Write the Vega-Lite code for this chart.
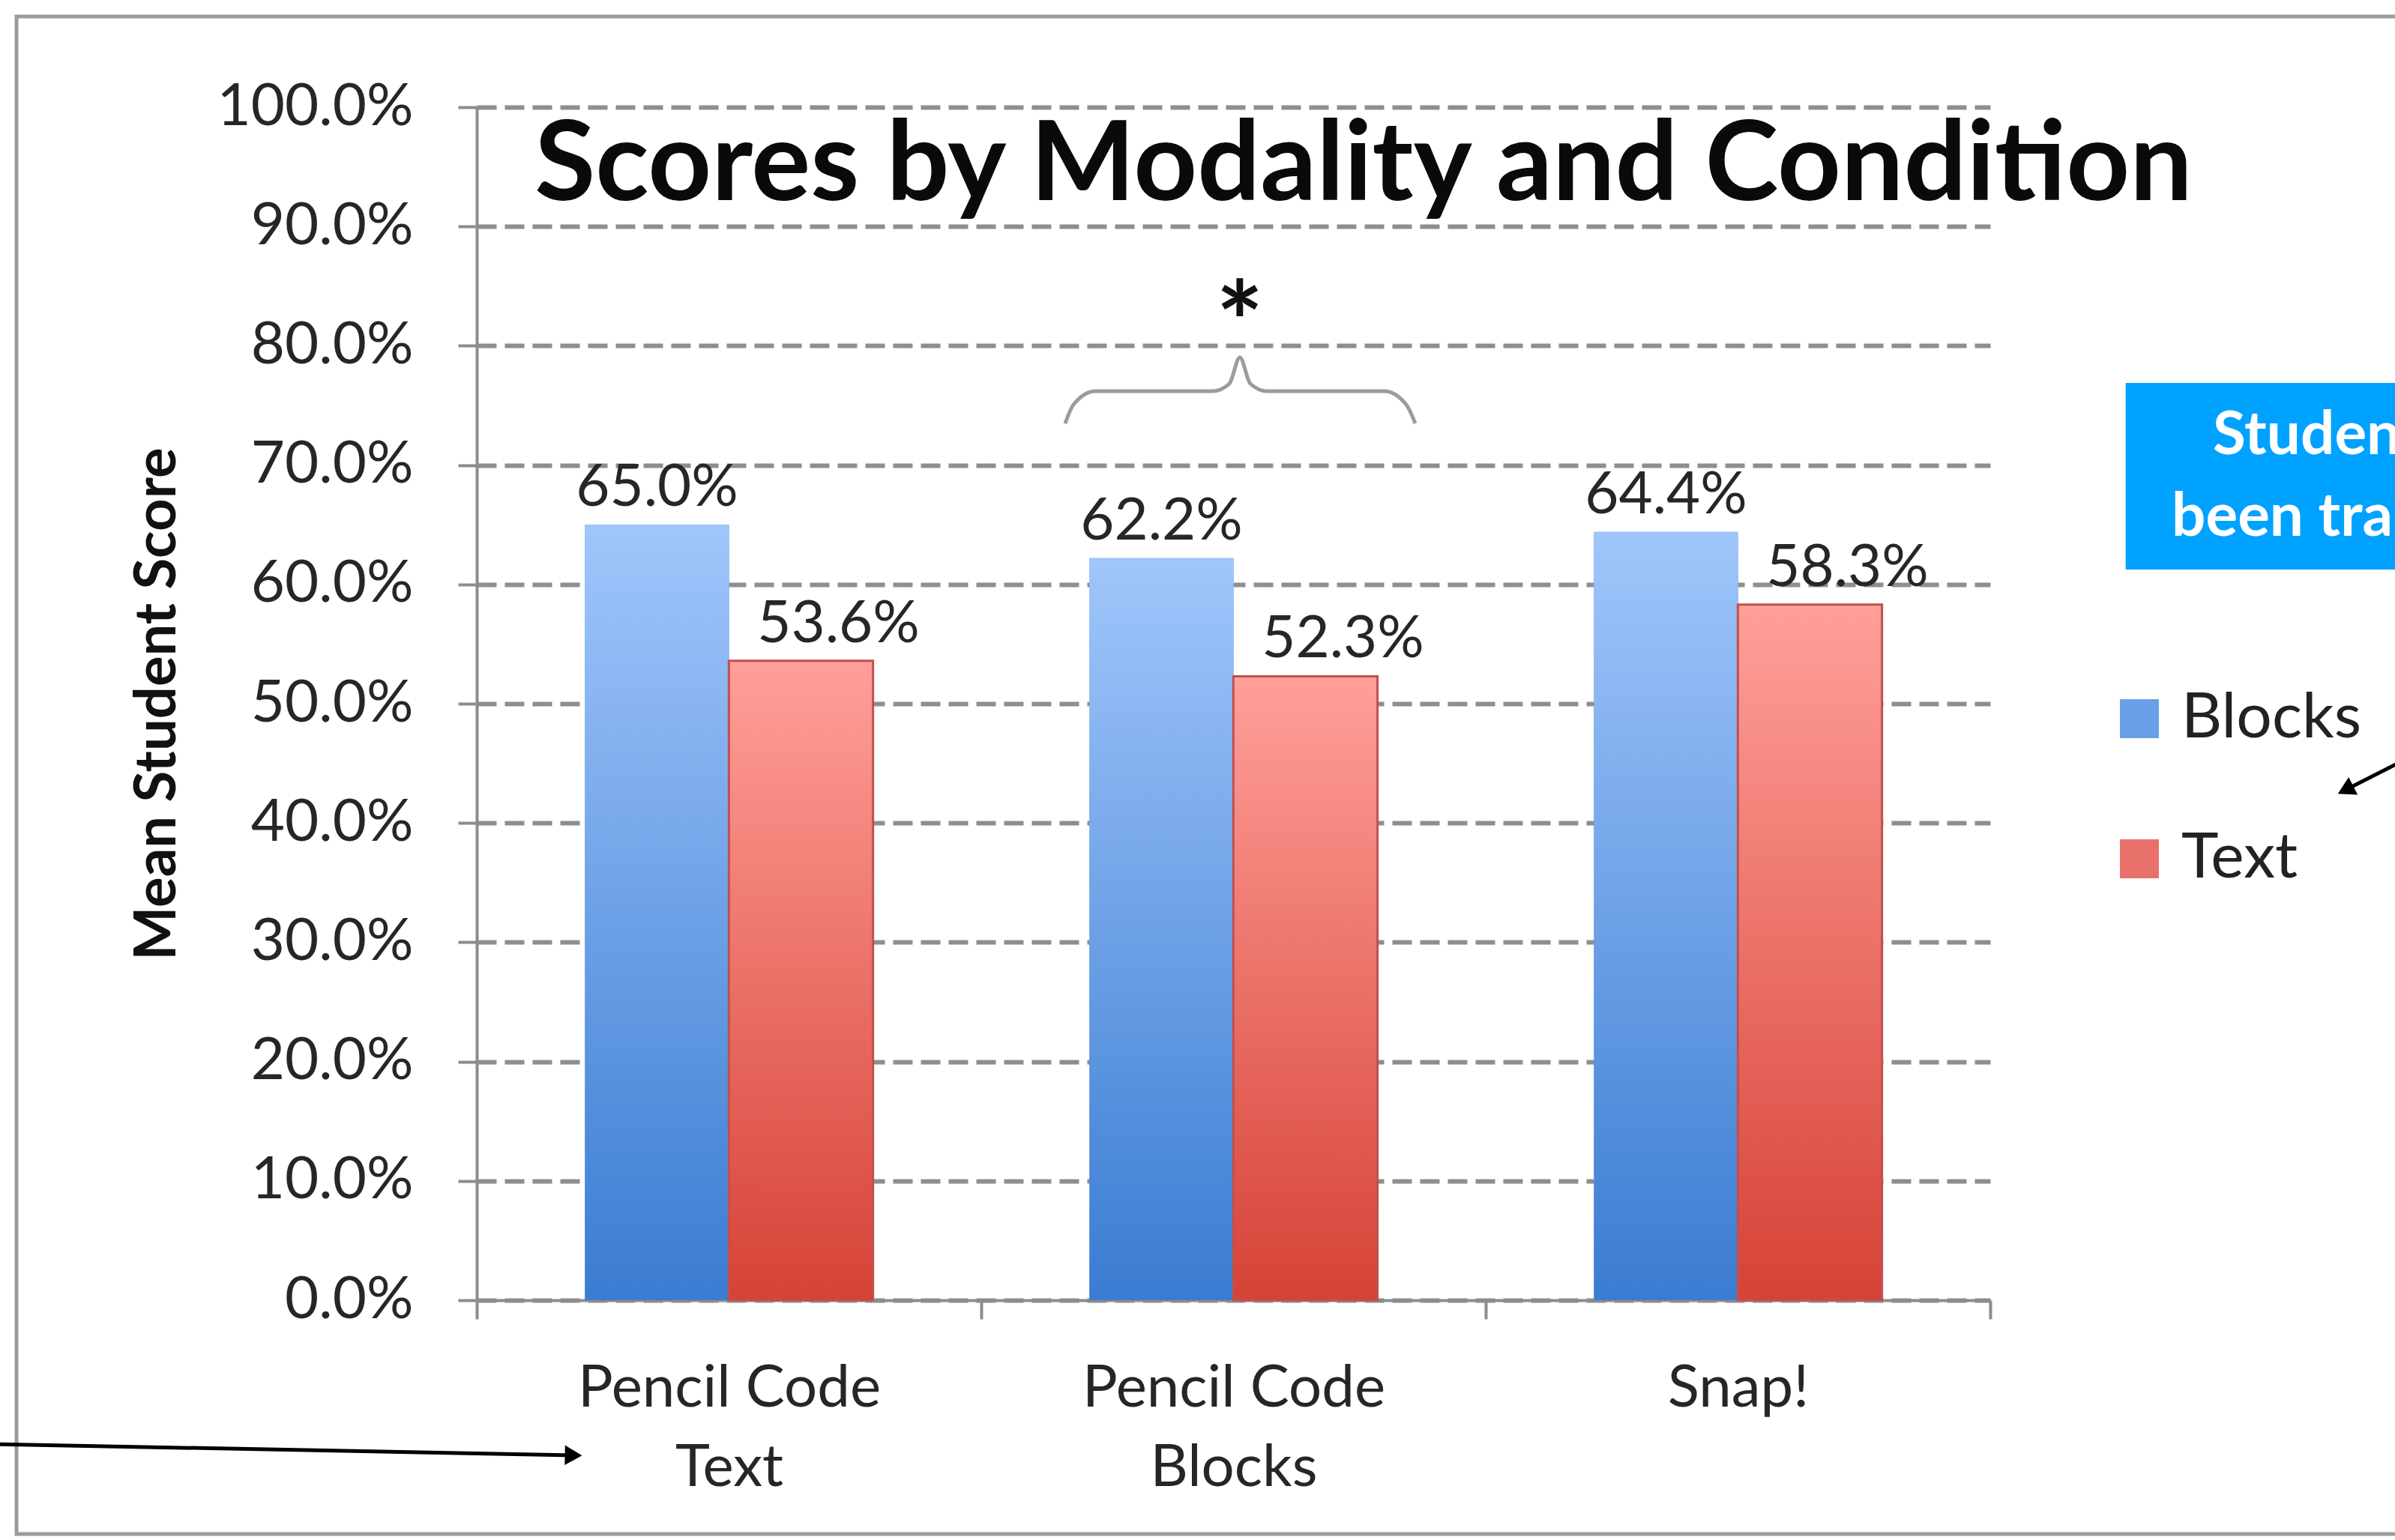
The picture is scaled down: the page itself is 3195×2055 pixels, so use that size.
{
  "$schema": "https://vega.github.io/schema/vega-lite/v6.json",
  "width": 2019,
  "height": 1592,
  "autosize": {"type": "none"},
  "padding": {"left": 636, "top": 143, "right": 540, "bottom": 320},
  "background": "#ffffff",
  "config": {"view": {"stroke": null}, "font": "Lato"},
  "datasets": {
    "scores": [
      {"condition": "Pencil Code Text", "modality": "Blocks", "score": 0.650},
      {"condition": "Pencil Code Text", "modality": "Text", "score": 0.536},
      {"condition": "Pencil Code Blocks", "modality": "Blocks", "score": 0.622},
      {"condition": "Pencil Code Blocks", "modality": "Text", "score": 0.523},
      {"condition": "Snap!", "modality": "Blocks", "score": 0.644},
      {"condition": "Snap!", "modality": "Text", "score": 0.583}
    ],
    "frame": [{"u": -0.9123, "u2": 4.3, "f": 1.076, "f2": -0.196}],
    "box": [{"u": 3.2685, "u2": 4.3, "f": 0.7688, "f2": 0.6124}],
    "boxtext": [
      {"label": "Students who had", "u": 3.4413, "f": 0.7092},
      {"label": "been trained in", "u": 3.3596, "f": 0.6407}
    ],
    "arrows": [
      {"u": -0.96, "f": -0.1206, "u2": 0.1917, "f2": -0.1300},
      {"u": 3.8098, "f": 0.4504, "u2": 3.7043, "f2": 0.4278}
    ],
    "heads": [
      {"u": 0.1917, "f": -0.1300, "angle": 1},
      {"u": 3.7043, "f": 0.4278, "angle": 153}
    ],
    "brace": [
      {"u": 1.1664, "f": 0.7349},
      {"u": 1.1828, "f": 0.7506},
      {"u": 1.2259, "f": 0.7619},
      {"u": 1.4591, "f": 0.7619},
      {"u": 1.4918, "f": 0.7682},
      {"u": 1.5126, "f": 0.7902},
      {"u": 1.5334, "f": 0.7682},
      {"u": 1.5661, "f": 0.7619},
      {"u": 1.7994, "f": 0.7619},
      {"u": 1.8425, "f": 0.7506},
      {"u": 1.8603, "f": 0.7349}
    ],
    "star": [{"label": "*", "u": 1.5126, "f": 0.7852}],
    "title": [{"label": "Scores by Modality and Condition", "u": 1.7578, "f": 0.9221}]
  },
  "resolve": {"scale": {"x": "independent"}, "axis": {"x": "independent"}},
  "layer": [
    {
      "data": {"name": "scores"},
      "encoding": {
        "x": {
          "field": "condition", "type": "nominal", "sort": null,
          "scale": {"paddingInner": 0, "paddingOuter": 0},
          "axis": {
            "orient": "bottom", "title": null, "tickBand": "extent", "labelAngle": 0, "labelLimit": 0,
            "labelExpr": "isString(datum.value) && datum.value != 'Snap!' ? [slice(datum.value, 0, 11), slice(datum.value, 12)] : datum.label",
            "domainColor": "#8c8c8c", "domainWidth": 4, "tickColor": "#8c8c8c", "tickWidth": 4, "tickSize": 25,
            "labelFont": "Lato", "labelFontSize": 78, "labelColor": "#262626", "labelPadding": 54, "labelLineHeight": 106, "grid": false
          }
        },
        "y": {
          "field": "score", "type": "quantitative", "title": "Mean Student  Score", "stack": null,
          "scale": {"domain": [0, 1], "nice": false},
          "axis": {"orient": "left", "format": ".1%", "labelLimit": 0, "values": [0, 0.1, 0.2, 0.3, 0.4, 0.5, 0.6, 0.7, 0.8, 0.9, 1.0], "grid": true, "gridDash": [26, 11], "gridColor": "#8e8e8e", "gridWidth": 6, "domainColor": "#8c8c8c", "domainWidth": 4, "tickColor": "#8c8c8c", "tickWidth": 4, "tickSize": 25, "labelFont": "Lato", "labelFontSize": 78, "labelColor": "#262626", "labelPadding": 60, "titleFont": "Lato", "titleFontWeight": "bold", "titleFontSize": 76, "titleColor": "#111111", "titleX": -426, "titleY": 796, "titleAngle": -90, "titleBaseline": "middle", "titleAlign": "center"}
        }
      },
      "layer": [
        {
          "mark": {"type": "bar", "width": {"band": 0.2857}, "xOffset": {"expr": "datum.modality === 'Blocks' ? -96 : 96"}},
          "encoding": {
            "color": {
              "field": "modality", "type": "nominal",
              "scale": {"domain": ["Blocks", "Text"], "range": ["#6A9FE8", "#E8726B"]},
              "legend": {
                "orient": "none", "legendX": 2176, "legendY": 774, "title": null,
                "symbolType": "square", "symbolSize": 2704, "symbolStrokeWidth": 0,
                "labelFont": "Lato", "labelFontSize": 84, "labelColor": "#222222", "labelLimit": 0,
                "rowPadding": 103, "labelOffset": 14
              }
            }
          }
        },
        {
          "transform": [{"filter": "datum.modality === 'Blocks'"}],
          "mark": {"type": "bar", "width": {"band": 0.2857}, "xOffset": -96, "color": {"gradient": "linear", "x1": 0, "y1": 0, "x2": 0, "y2": 1, "stops": [{"offset": 0, "color": "#A0C6FB"}, {"offset": 1, "color": "#3A7CD2"}]}}
        },
        {
          "transform": [{"filter": "datum.modality === 'Text'"}],
          "mark": {"type": "bar", "width": {"band": 0.2857}, "xOffset": 96, "stroke": "#C0504D", "strokeWidth": 3, "color": {"gradient": "linear", "x1": 0, "y1": 0, "x2": 0, "y2": 1, "stops": [{"offset": 0, "color": "#FF9F99"}, {"offset": 1, "color": "#D64236"}]}}
        },
        {
          "transform": [{"filter": "datum.modality === 'Blocks'"}],
          "mark": {"type": "text", "font": "Lato", "fontSize": 78, "color": "#262626", "baseline": "alphabetic", "dy": -25, "dx": -96},
          "encoding": {"text": {"field": "score", "type": "quantitative", "format": ".1%"}}
        },
        {
          "transform": [{"filter": "datum.modality === 'Text'"}],
          "mark": {"type": "text", "font": "Lato", "fontSize": 78, "color": "#262626", "baseline": "alphabetic", "dy": -25, "dx": 146},
          "encoding": {"text": {"field": "score", "type": "quantitative", "format": ".1%"}}
        }
      ]
    },
    {
      "layer": [
        {
          "data": {"name": "frame"},
          "mark": {"type": "rect", "fillOpacity": 0, "stroke": "#9b9b9b", "strokeWidth": 5, "clip": false},
          "encoding": {
            "x": {"field": "u", "type": "quantitative", "scale": {"domain": [0, 3], "nice": false, "zero": false}, "axis": null},
            "x2": {"field": "u2"},
            "y": {"field": "f", "type": "quantitative", "title": "Mean Student  Score", "scale": {"domain": [0, 1], "nice": false}, "axis": {"orient": "left", "format": ".1%", "labelLimit": 0, "values": [0, 0.1, 0.2, 0.3, 0.4, 0.5, 0.6, 0.7, 0.8, 0.9, 1.0], "grid": true, "gridDash": [26, 11], "gridColor": "#8e8e8e", "gridWidth": 6, "domainColor": "#8c8c8c", "domainWidth": 4, "tickColor": "#8c8c8c", "tickWidth": 4, "tickSize": 25, "labelFont": "Lato", "labelFontSize": 78, "labelColor": "#262626", "labelPadding": 60, "titleFont": "Lato", "titleFontWeight": "bold", "titleFontSize": 76, "titleColor": "#111111", "titleX": -426, "titleY": 796, "titleAngle": -90, "titleBaseline": "middle", "titleAlign": "center"}},
            "y2": {"field": "f2"}
          }
        },
        {
          "data": {"name": "box"},
          "mark": {"type": "rect", "fill": "#00A2FF", "clip": false},
          "encoding": {
            "x": {"field": "u", "type": "quantitative", "scale": {"domain": [0, 3], "nice": false, "zero": false}, "axis": null},
            "x2": {"field": "u2"},
            "y": {"field": "f", "type": "quantitative", "title": "Mean Student  Score", "scale": {"domain": [0, 1], "nice": false}, "axis": {"orient": "left", "format": ".1%", "labelLimit": 0, "values": [0, 0.1, 0.2, 0.3, 0.4, 0.5, 0.6, 0.7, 0.8, 0.9, 1.0], "grid": true, "gridDash": [26, 11], "gridColor": "#8e8e8e", "gridWidth": 6, "domainColor": "#8c8c8c", "domainWidth": 4, "tickColor": "#8c8c8c", "tickWidth": 4, "tickSize": 25, "labelFont": "Lato", "labelFontSize": 78, "labelColor": "#262626", "labelPadding": 60, "titleFont": "Lato", "titleFontWeight": "bold", "titleFontSize": 76, "titleColor": "#111111", "titleX": -426, "titleY": 796, "titleAngle": -90, "titleBaseline": "middle", "titleAlign": "center"}},
            "y2": {"field": "f2"}
          }
        },
        {
          "data": {"name": "boxtext"},
          "mark": {"type": "text", "font": "Lato", "fontWeight": "bold", "fontSize": 80, "color": "#ffffff", "align": "left", "baseline": "alphabetic", "letterSpacing": 3, "clip": false},
          "encoding": {
            "x": {"field": "u", "type": "quantitative", "scale": {"domain": [0, 3], "nice": false, "zero": false}, "axis": null},
            "y": {"field": "f", "type": "quantitative", "title": "Mean Student  Score", "scale": {"domain": [0, 1], "nice": false}, "axis": {"orient": "left", "format": ".1%", "labelLimit": 0, "values": [0, 0.1, 0.2, 0.3, 0.4, 0.5, 0.6, 0.7, 0.8, 0.9, 1.0], "grid": true, "gridDash": [26, 11], "gridColor": "#8e8e8e", "gridWidth": 6, "domainColor": "#8c8c8c", "domainWidth": 4, "tickColor": "#8c8c8c", "tickWidth": 4, "tickSize": 25, "labelFont": "Lato", "labelFontSize": 78, "labelColor": "#262626", "labelPadding": 60, "titleFont": "Lato", "titleFontWeight": "bold", "titleFontSize": 76, "titleColor": "#111111", "titleX": -426, "titleY": 796, "titleAngle": -90, "titleBaseline": "middle", "titleAlign": "center"}},
            "text": {"field": "label"}
          }
        },
        {
          "data": {"name": "arrows"},
          "mark": {"type": "rule", "color": "#000000", "strokeWidth": 5, "clip": false},
          "encoding": {
            "x": {"field": "u", "type": "quantitative", "scale": {"domain": [0, 3], "nice": false, "zero": false}, "axis": null},
            "x2": {"field": "u2"},
            "y": {"field": "f", "type": "quantitative", "title": "Mean Student  Score", "scale": {"domain": [0, 1], "nice": false}, "axis": {"orient": "left", "format": ".1%", "labelLimit": 0, "values": [0, 0.1, 0.2, 0.3, 0.4, 0.5, 0.6, 0.7, 0.8, 0.9, 1.0], "grid": true, "gridDash": [26, 11], "gridColor": "#8e8e8e", "gridWidth": 6, "domainColor": "#8c8c8c", "domainWidth": 4, "tickColor": "#8c8c8c", "tickWidth": 4, "tickSize": 25, "labelFont": "Lato", "labelFontSize": 78, "labelColor": "#262626", "labelPadding": 60, "titleFont": "Lato", "titleFontWeight": "bold", "titleFontSize": 76, "titleColor": "#111111", "titleX": -426, "titleY": 796, "titleAngle": -90, "titleBaseline": "middle", "titleAlign": "center"}},
            "y2": {"field": "f2"}
          }
        },
        {
          "data": {"name": "heads"},
          "mark": {"type": "point", "shape": "triangle-right", "filled": true, "color": "#000000", "opacity": 1, "size": 700, "clip": false},
          "encoding": {
            "x": {"field": "u", "type": "quantitative", "scale": {"domain": [0, 3], "nice": false, "zero": false}, "axis": null},
            "y": {"field": "f", "type": "quantitative", "title": "Mean Student  Score", "scale": {"domain": [0, 1], "nice": false}, "axis": {"orient": "left", "format": ".1%", "labelLimit": 0, "values": [0, 0.1, 0.2, 0.3, 0.4, 0.5, 0.6, 0.7, 0.8, 0.9, 1.0], "grid": true, "gridDash": [26, 11], "gridColor": "#8e8e8e", "gridWidth": 6, "domainColor": "#8c8c8c", "domainWidth": 4, "tickColor": "#8c8c8c", "tickWidth": 4, "tickSize": 25, "labelFont": "Lato", "labelFontSize": 78, "labelColor": "#262626", "labelPadding": 60, "titleFont": "Lato", "titleFontWeight": "bold", "titleFontSize": 76, "titleColor": "#111111", "titleX": -426, "titleY": 796, "titleAngle": -90, "titleBaseline": "middle", "titleAlign": "center"}},
            "angle": {"field": "angle", "type": "quantitative", "scale": null}
          }
        },
        {
          "data": {"name": "brace"},
          "mark": {"type": "line", "interpolate": "monotone", "color": "#9b9b9b", "strokeWidth": 5, "clip": false},
          "encoding": {
            "x": {"field": "u", "type": "quantitative", "scale": {"domain": [0, 3], "nice": false, "zero": false}, "axis": null},
            "y": {"field": "f", "type": "quantitative", "title": "Mean Student  Score", "scale": {"domain": [0, 1], "nice": false}, "axis": {"orient": "left", "format": ".1%", "labelLimit": 0, "values": [0, 0.1, 0.2, 0.3, 0.4, 0.5, 0.6, 0.7, 0.8, 0.9, 1.0], "grid": true, "gridDash": [26, 11], "gridColor": "#8e8e8e", "gridWidth": 6, "domainColor": "#8c8c8c", "domainWidth": 4, "tickColor": "#8c8c8c", "tickWidth": 4, "tickSize": 25, "labelFont": "Lato", "labelFontSize": 78, "labelColor": "#262626", "labelPadding": 60, "titleFont": "Lato", "titleFontWeight": "bold", "titleFontSize": 76, "titleColor": "#111111", "titleX": -426, "titleY": 796, "titleAngle": -90, "titleBaseline": "middle", "titleAlign": "center"}}
          }
        },
        {
          "data": {"name": "star"},
          "mark": {"type": "text", "font": "Lato", "fontWeight": "bold", "fontSize": 150, "color": "#111111", "align": "center", "baseline": "alphabetic", "clip": false},
          "encoding": {
            "x": {"field": "u", "type": "quantitative", "scale": {"domain": [0, 3], "nice": false, "zero": false}, "axis": null},
            "y": {"field": "f", "type": "quantitative", "title": "Mean Student  Score", "scale": {"domain": [0, 1], "nice": false}, "axis": {"orient": "left", "format": ".1%", "labelLimit": 0, "values": [0, 0.1, 0.2, 0.3, 0.4, 0.5, 0.6, 0.7, 0.8, 0.9, 1.0], "grid": true, "gridDash": [26, 11], "gridColor": "#8e8e8e", "gridWidth": 6, "domainColor": "#8c8c8c", "domainWidth": 4, "tickColor": "#8c8c8c", "tickWidth": 4, "tickSize": 25, "labelFont": "Lato", "labelFontSize": 78, "labelColor": "#262626", "labelPadding": 60, "titleFont": "Lato", "titleFontWeight": "bold", "titleFontSize": 76, "titleColor": "#111111", "titleX": -426, "titleY": 796, "titleAngle": -90, "titleBaseline": "middle", "titleAlign": "center"}},
            "text": {"field": "label"}
          }
        },
        {
          "data": {"name": "title"},
          "mark": {"type": "text", "font": "Lato", "fontWeight": "bold", "fontSize": 148, "color": "#0a0a0a", "align": "center", "baseline": "alphabetic", "clip": false},
          "encoding": {
            "x": {"field": "u", "type": "quantitative", "scale": {"domain": [0, 3], "nice": false, "zero": false}, "axis": null},
            "y": {"field": "f", "type": "quantitative", "title": "Mean Student  Score", "scale": {"domain": [0, 1], "nice": false}, "axis": {"orient": "left", "format": ".1%", "labelLimit": 0, "values": [0, 0.1, 0.2, 0.3, 0.4, 0.5, 0.6, 0.7, 0.8, 0.9, 1.0], "grid": true, "gridDash": [26, 11], "gridColor": "#8e8e8e", "gridWidth": 6, "domainColor": "#8c8c8c", "domainWidth": 4, "tickColor": "#8c8c8c", "tickWidth": 4, "tickSize": 25, "labelFont": "Lato", "labelFontSize": 78, "labelColor": "#262626", "labelPadding": 60, "titleFont": "Lato", "titleFontWeight": "bold", "titleFontSize": 76, "titleColor": "#111111", "titleX": -426, "titleY": 796, "titleAngle": -90, "titleBaseline": "middle", "titleAlign": "center"}},
            "text": {"field": "label"}
          }
        }
      ]
    }
  ]
}
